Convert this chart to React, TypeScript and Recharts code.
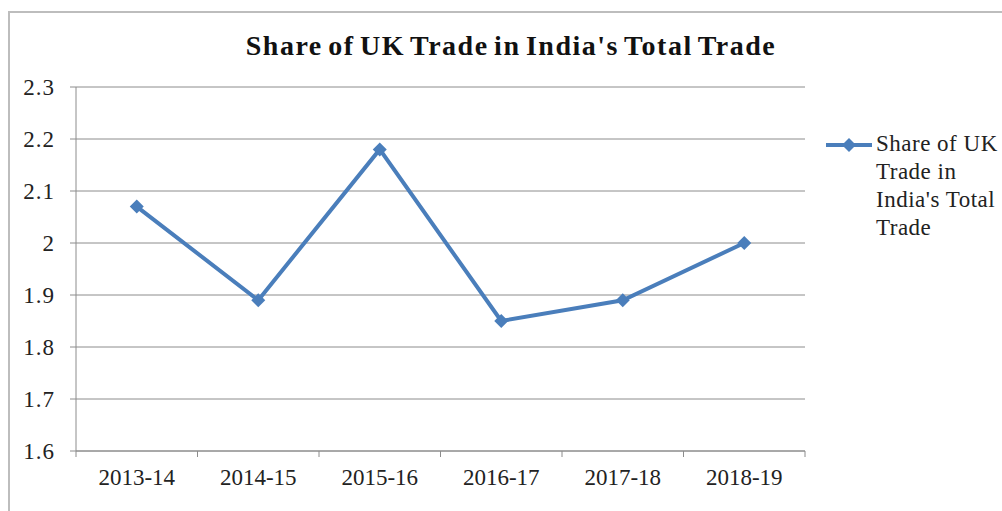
import { LineChart, Line, CartesianGrid, XAxis, YAxis, Legend } from 'recharts';

const years = ['2013-14', '2014-15', '2015-16', '2016-17', '2017-18', '2018-19'];
const shares = [2.07, 1.89, 2.18, 1.85, 1.89, 2.0];
const yTicks = [1.6, 1.7, 1.8, 1.9, 2.0, 2.1, 2.2, 2.3];

const seriesName = "Share of UK Trade in India's Total Trade";
const legendLines = ['Share of UK', 'Trade in', "India's Total", 'Trade'];

const data = years.map((y, i) => ({ year: y, share: shares[i] }));

const BLUE = '#4a7ebb';
const GRID = '#8c8c8c';
const FONT = '"Liberation Serif", "Times New Roman", serif';
const TICK_SIZE = 6;
const TICK_MARGIN = 12;

const Diamond = (props: any) => {
    const { cx, cy } = props;
    if (cx == null || cy == null) return null;
    const r = 7;
    return <polygon points={`${cx},${cy - r} ${cx + r},${cy} ${cx},${cy + r} ${cx - r},${cy}`} fill={BLUE} />;
};

const XTick = (props: any) => {
    const { x, y, payload, index, width, visibleTicksCount } = props;
    const count = visibleTicksCount || years.length;
    const band = (width || 729) / count;
    const axisY = y - TICK_SIZE - TICK_MARGIN;
    const left = x - band / 2;
    const right = x + band / 2;
    return (
        <g>
            <line x1={left} x2={left} y1={axisY} y2={axisY + TICK_SIZE} stroke={GRID} />
            {index === count - 1 && (
                <line x1={right} x2={right} y1={axisY} y2={axisY + TICK_SIZE} stroke={GRID} />
            )}
            <text x={x} y={y} dy="0.71em" textAnchor="middle" fill="#222" fontSize={23} fontFamily={FONT}>
                {payload.value}
            </text>
        </g>
    );
};

const LegendBox = () => (
    <div style={{ display: 'flex', fontFamily: FONT, fontSize: 23, color: '#222', letterSpacing: 0.5 }}>
        <svg width={50} height={28} style={{ flex: 'none' }}>
            <line x1={2} x2={48} y1={15} y2={15} stroke={BLUE} strokeWidth={4} />
            <polygon points="25,8 32,15 25,22 18,15" fill={BLUE} />
        </svg>
        <div style={{ lineHeight: '28px', marginLeft: 2 }}>
            {legendLines.map((l) => (
                <div key={l} style={{ whiteSpace: 'nowrap' }}>{l}</div>
            ))}
        </div>
    </div>
);

export default function App() {
    return (
        <div style={{ position: 'absolute', left: 0, top: 0, width: 1002, height: 511, background: '#fff', overflow: 'hidden' }}>
            <div style={{ position: 'absolute', left: 8, top: 11, width: 1100, height: 600, border: '2px solid #bdbdbd' }} />
            <div
                style={{
                    position: 'absolute', left: 0, width: 1022, top: 30, textAlign: 'center',
                    fontFamily: FONT, fontWeight: 'bold', fontSize: 28, letterSpacing: 1.5, wordSpacing: -3, color: '#111',
                }}
            >
                {seriesName}
            </div>
            <div style={{ position: 'absolute', left: 0, top: 0 }}>
                <LineChart width={1002} height={511} data={data} margin={{ top: 87, right: 197, bottom: 30, left: 16 }}>
                    <CartesianGrid vertical={false} stroke={GRID} />
                    <XAxis
                        dataKey="year"
                        scale="band"
                        axisLine={{ stroke: GRID }}
                        tickLine={false}
                        tickSize={TICK_SIZE}
                        tickMargin={TICK_MARGIN}
                        height={30}
                        tick={<XTick />}
                        interval={0}
                    />
                    <YAxis
                        domain={[1.6, 2.3]}
                        ticks={yTicks}
                        width={60}
                        axisLine={{ stroke: GRID }}
                        tickLine={{ stroke: GRID }}
                        tickSize={TICK_SIZE}
                        tickMargin={15}
                        tickFormatter={(v: number) => String(Number(v.toFixed(1)))}
                        tick={{ fill: '#222', fontSize: 23, fontFamily: FONT, letterSpacing: 1 }}
                    />
                    <Legend
                        layout="horizontal"
                        verticalAlign="middle"
                        align="center"
                        content={<LegendBox />}
                        wrapperStyle={{ position: 'absolute', left: 824, top: 130, width: 178 }}
                    />
                    <Line
                        type="linear"
                        dataKey="share"
                        name={seriesName}
                        stroke={BLUE}
                        strokeWidth={4}
                        dot={<Diamond />}
                        activeDot={false}
                        isAnimationActive={false}
                    />
                </LineChart>
            </div>
        </div>
    );
}
